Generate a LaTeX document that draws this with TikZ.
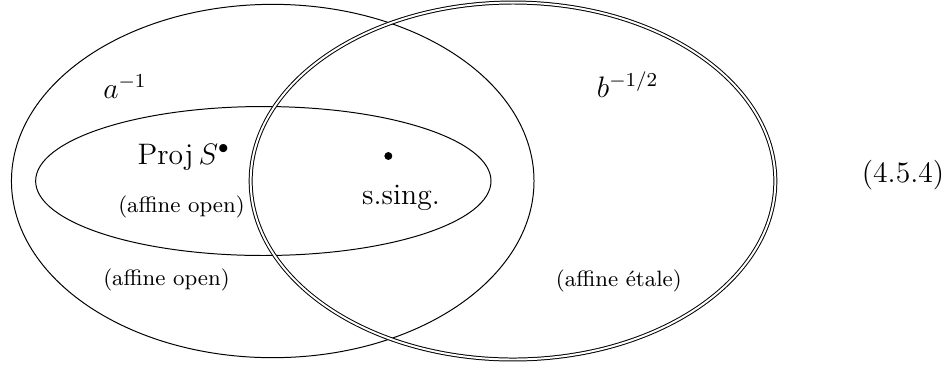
\documentclass[tikz,border=0pt]{standalone}
\usepackage{xcolor}
\definecolor{ink}{HTML}{000000}

\begin{document}
\begin{tikzpicture}[
  x=1cm, y=1cm,
  set/.style={draw=ink, line width=.4pt},
  dset/.style={set, double=white, double distance=.8pt},
  lbl/.style={font=\large, text=ink, inner sep=0pt, anchor=base},
  note/.style={font=\small, text=ink, inner sep=0pt, anchor=base},
  pt/.style={circle, fill=ink, inner sep=0pt, minimum size=3.2pt},
]
\useasboundingbox (0,-2.604) rectangle (13.547,2.576);

%% ---------------- the three open sets ----------------
\draw[set] (3.881,0) ellipse [x radius=3.718, y radius=2.514];
\draw[set] (3.747,0) ellipse [x radius=3.240, y radius=1.060];
\draw[dset] (7.300,0) ellipse [x radius=3.733, y radius=2.540];

%% ---------------- labels ----------------
\node[lbl] (ainv) at (1.779, 1.181) {$a^{-1}$};
\node[lbl] (proj) at (2.614, 0.235) {$\mathrm{Proj}\, S^{\bullet}$};
\node[note] (aff1) at (2.583,-0.441) {(affine open)};
\node[note] (aff2) at (2.369,-1.480) {(affine open)};

\node[pt] (sing) at (5.526, 0.356) {};
\node[lbl] (ssng) at (5.706,-0.334) {s.sing.};

\node[lbl] (binv) at (8.932, 1.195) {$b^{-1/2}$};
\node[note] (etl) at (8.806,-1.494) {(affine étale)};

%% equation number
\node[lbl] (eqno) at (12.850,-0.020) {(4.5.4)};

\end{tikzpicture}
\end{document}
